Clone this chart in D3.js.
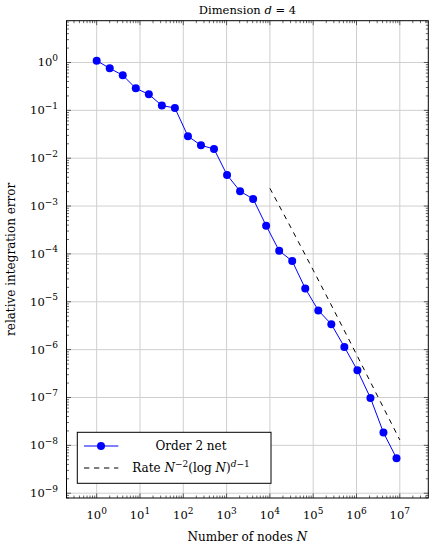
<!DOCTYPE html>
<html><head><meta charset="utf-8">
<script src="https://cdn.jsdelivr.net/npm/d3@7"></script>
<style>
body{margin:0;background:#fff;}
text{font-family:"DejaVu Serif","Liberation Serif",serif;fill:#000;}
</style></head>
<body>
<svg id="chart" width="430" height="547"></svg>
<script>
// ---- data ----
const nodes = [1,2,4,8,16,32,64,128,256,512,1024,2048,4096,8192,16384,32768,65536,131072,262144,524288,1048576,2097152,4194304,8388608];
const errors = [1.09,0.756,0.54,0.289,0.216,0.126,0.112,0.0288,0.0186,0.0156,4.47e-3,2.04e-3,1.41e-3,3.9e-4,1.16e-4,7.1e-5,1.9e-5,6.6e-6,3.4e-6,1.14e-6,3.7e-7,9.8e-8,1.85e-8,5.4e-9];
const rateN = [1e4, 3.1623e4, 1e5, 3.1623e5, 1e6, 3.1623e6, 1e7];
const rateVals = [2.35e-3, 3.35e-4, 4.59e-5, 6.11e-6, 7.94e-7, 1.01e-7, 1.3e-8];
const xTickExps = [0,1,2,3,4,5,6,7];
const yTickExps = [0,-1,-2,-3,-4,-5,-6,-7,-8,-9];
const seriesLabel = "Order 2 net";
const titleText = "Dimension ";
const xLabelText = "Number of nodes ";
const yLabelText = "relative integration error";

const svg = d3.select("#chart");
const L = 66.5, R = 428.3, T = 20.7, B = 498;
const x = d3.scaleLog().domain([Math.pow(10,-0.697), Math.pow(10,7.658)]).range([L, R]);
const y = d3.scaleLog().domain([Math.pow(10,0.873), Math.pow(10,-9.1)]).range([T, B]);

// grid
const g = svg.append("g");
g.selectAll(".gx").data(xTickExps).enter().append("line")
  .attr("x1", d=>x(Math.pow(10,d))).attr("x2", d=>x(Math.pow(10,d)))
  .attr("y1", T).attr("y2", B).attr("stroke","#cfcfcf").attr("stroke-width",1);
g.selectAll(".gy").data(yTickExps).enter().append("line")
  .attr("y1", d=>y(Math.pow(10,d))).attr("y2", d=>y(Math.pow(10,d)))
  .attr("x1", L).attr("x2", R).attr("stroke","#cfcfcf").attr("stroke-width",1);

// minor & major ticks (inward, all four sides)
function minorVals(scale){
  const [a,b] = scale.domain().map(Math.log10).sort((p,q)=>p-q);
  const out=[];
  for(let e=Math.floor(a); e<=Math.ceil(b); e++){
    for(let m=2;m<=9;m++){ const v=m*Math.pow(10,e); const l=Math.log10(v); if(l>=a && l<=b) out.push(v);}
  }
  return out;
}
const tk = svg.append("g").attr("stroke","#000").attr("stroke-width",0.6);
const xm = minorVals(x), ym = minorVals(y);
xm.forEach(v=>{ const px=x(v);
  tk.append("line").attr("x1",px).attr("x2",px).attr("y1",B).attr("y2",B-2.5);
  tk.append("line").attr("x1",px).attr("x2",px).attr("y1",T).attr("y2",T+2.5);});
ym.forEach(v=>{ const py=y(v);
  tk.append("line").attr("y1",py).attr("y2",py).attr("x1",L).attr("x2",L+2.5);
  tk.append("line").attr("y1",py).attr("y2",py).attr("x1",R).attr("x2",R-2.5);});
xTickExps.forEach(e=>{ const px=x(Math.pow(10,e));
  tk.append("line").attr("x1",px).attr("x2",px).attr("y1",B).attr("y2",B-4.5);
  tk.append("line").attr("x1",px).attr("x2",px).attr("y1",T).attr("y2",T+4.5);});
yTickExps.forEach(e=>{ const py=y(Math.pow(10,e));
  tk.append("line").attr("y1",py).attr("y2",py).attr("x1",L).attr("x2",L+4.5);
  tk.append("line").attr("y1",py).attr("y2",py).attr("x1",R).attr("x2",R-4.5);});

// rate line
const line = d3.line().x(d=>x(d[0])).y(d=>y(d[1]));
svg.append("path").datum(rateN.map((n,i)=>[n,rateVals[i]]))
  .attr("d", line).attr("fill","none").attr("stroke","#000").attr("stroke-width",1)
  .attr("stroke-dasharray","5,5");

// series
svg.append("path").datum(nodes.map((n,i)=>[n,errors[i]]))
  .attr("d", line).attr("fill","none").attr("stroke","#0000ff").attr("stroke-width",1);
svg.selectAll(".pt").data(nodes.map((n,i)=>[n,errors[i]])).enter().append("circle")
  .attr("cx", d=>x(d[0])).attr("cy", d=>y(d[1])).attr("r",4).attr("fill","#0000ff");

// frame
svg.append("rect").attr("x",L).attr("y",T).attr("width",R-L).attr("height",B-T)
  .attr("fill","none").attr("stroke","#000").attr("stroke-width",1);

// tick labels
const fs = 11.5, sfs = 9;
xTickExps.forEach(e=>{
  const t = svg.append("text").attr("x", x(Math.pow(10,e))).attr("y", 519)
    .attr("text-anchor","middle").style("font-size",fs+"px");
  t.append("tspan").text("10");
  t.append("tspan").attr("dy",-5.5).style("font-size",sfs+"px").text(String(e).replace("-","\u2212"));
});
yTickExps.forEach(e=>{
  const t = svg.append("text").attr("x", 58).attr("y", y(Math.pow(10,e))+4)
    .attr("text-anchor","end").style("font-size",fs+"px");
  t.append("tspan").text("10");
  t.append("tspan").attr("dy",-5.5).style("font-size",sfs+"px").text(String(e).replace("-","\u2212"));
});

// title
const tt = svg.append("text").attr("x",(L+R)/2).attr("y",14).attr("text-anchor","middle").style("font-size","11.5px");
tt.append("tspan").text(titleText);
tt.append("tspan").style("font-style","italic").text("d");
tt.append("tspan").text(" = 4");

// x label
const xl = svg.append("text").attr("x",(L+R)/2).attr("y",541).attr("text-anchor","middle").style("font-size","12px");
xl.append("tspan").text(xLabelText);
xl.append("tspan").style("font-style","italic").text("N");

// y label
svg.append("text").attr("transform",`translate(15,${(T+B)/2}) rotate(-90)`)
  .attr("text-anchor","middle").style("font-size","12px").text(yLabelText);

// legend
const lg = svg.append("g");
lg.append("rect").attr("x",77.3).attr("y",432.3).attr("width",271-77.3).attr("height",483.3-432.3)
  .attr("fill","#fff").attr("stroke","#000").attr("stroke-width",1);
lg.append("line").attr("x1",84).attr("x2",118.3).attr("y1",446).attr("y2",446).attr("stroke","#0000ff").attr("stroke-width",1);
lg.append("circle").attr("cx",101).attr("cy",446).attr("r",4).attr("fill","#0000ff");
lg.append("line").attr("x1",84).attr("x2",118.3).attr("y1",468).attr("y2",468).attr("stroke","#000").attr("stroke-width",1).attr("stroke-dasharray","5.3,4.7");
lg.append("text").attr("x",191).attr("y",450).attr("text-anchor","middle").style("font-size","12px").text(seriesLabel);
const rt = lg.append("text").attr("x",191).attr("y",472).attr("text-anchor","middle").style("font-size","12px");
rt.append("tspan").text("Rate ");
rt.append("tspan").style("font-style","italic").text("N");
rt.append("tspan").attr("dy",-5.5).style("font-size","9px").text("\u22122");
rt.append("tspan").attr("dy",5.5).text("(log ");
rt.append("tspan").style("font-style","italic").text("N");
rt.append("tspan").text(")");
const sup = rt.append("tspan").attr("dy",-5.5).style("font-size","9px");
sup.append("tspan").style("font-style","italic").text("d");
sup.append("tspan").text("\u22121");
</script>
</body></html>
